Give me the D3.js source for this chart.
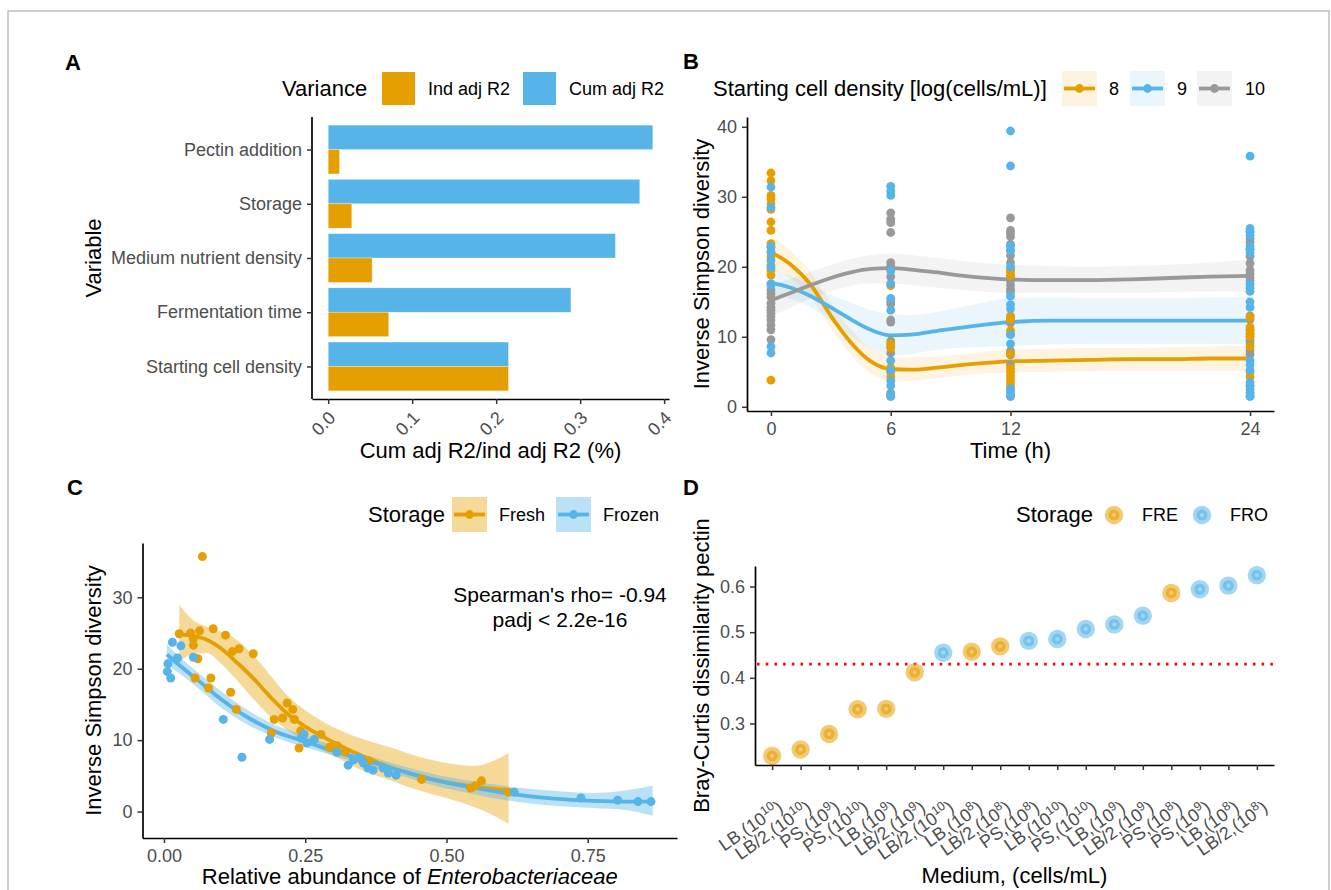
<!DOCTYPE html>
<html><head><meta charset="utf-8">
<script src="https://cdn.jsdelivr.net/npm/d3@7"></script>
<style>
body{margin:0;background:#fff}
svg text{font-family:"Liberation Sans",Arial,Helvetica,sans-serif}
</style>
</head><body>
<svg id="chart" width="1331" height="890"></svg>
<script>
// ---------------- DATA ----------------
// Panel A
const aVariables = ["Starting cell density","Fermentation time","Medium nutrient density","Storage","Pectin addition"];
const aIndAdjR2 = [0.2147,0.0721,0.0523,0.0281,0.0135];
const aCumAdjR2 = [0.2147,0.2890,0.3420,0.3710,0.3865];
const aXTicks = [0,0.1,0.2,0.3,0.4];
const aLegendLabels = ["Ind adj R2","Cum adj R2"];

// Panel B
const bGroups = ["8","9","10"];
const bTimes = [0,6,12,24];
const bXTicks = [0,6,12,24];
const bYTicks = [0,10,20,30,40];
const b8Values = [
  [33.4,32.3,30.2,29.7,29.0,28.2,26.4,25.2,23.3,22.8,22.1,21.4,20.2,19.5,18.8,3.8],
  [17.3,9.0,8.4,5.6,5.0,4.3,2.0,1.5],
  [19.3,18.8,13.0,12.5,10.9,10.4,7.6,5.5,5.0,4.5,4.0,3.5,3.0,2.4,1.5],
  [12.8,11.4,10.9,10.4,10.0,8.6,5.0,4.3,3.0,2.0,1.5]
];
const b9Values = [
  [31.4,28.5,22.9,22.1,20.9,19.9,17.6,17.4,8.6,7.7],
  [31.5,30.8,30.2,19.4,17.6,15.5,13.8,6.6,5.2,3.7,3.0,1.8,1.5],
  [39.4,34.4,23.0,22.3,20.0,15.8,14.6,14.0,10.3,9.0,2.6,2.0,1.5],
  [35.8,25.5,25.0,24.5,23.0,22.6,22.0,17.5,17.0,16.5,15.0,14.2,6.6,6.0,5.2,3.5,3.0,2.5,2.0,1.5]
];
const b10Values = [
  [16.7,16.2,15.7,14.8,14.2,13.8,13.4,12.9,12.4,11.7,11.0,9.6],
  [27.7,26.8,26.3,24.9,20.6,20.1,19.6,18.6,15.1,14.7,12.4,12.1,9.4,8.6,7.7],
  [27.0,25.2,24.8,24.3,23.2,22.4,21.6,20.6,19.6,18.6,18.0,17.4,16.8,16.4,12.6,12.0,8.0,7.4,6.0],
  [25.0,24.0,23.5,22.5,21.5,20.5,19.5,19.0,18.5,18.0,13.0,12.5,11.0,10.5,10.0,9.5,9.0,8.0,7.5]
];
const bSmoothTime = [0,1,2,3,4,5,6,7,8,10,12,14,16,18,20,22,24];
const b8Fit = [22.1,20.3,17.4,13.0,9.2,6.5,5.4,5.3,5.5,6.1,6.5,6.6,6.7,6.8,6.8,6.9,6.9];
const b8Lo  = [19.8,18.4,15.6,11.3,7.4,4.8,3.6,3.7,4.0,4.6,4.9,5.0,5.1,5.2,5.2,5.2,5.2];
const b8Hi  = [24.4,22.2,19.2,14.8,11.1,8.3,7.2,7.0,7.1,7.6,8.2,8.3,8.4,8.4,8.5,8.6,8.7];
const b9Fit = [17.7,17.0,15.8,14.2,12.5,11.0,10.2,10.3,10.7,11.5,12.1,12.3,12.3,12.3,12.3,12.3,12.3];
const b9Lo  = [15.8,15.4,14.2,12.3,10.1,8.3,7.3,7.5,8.0,8.5,8.7,8.9,9.0,9.0,9.0,9.0,8.9];
const b9Hi  = [19.7,18.7,17.4,16.0,14.9,13.8,13.3,13.1,13.4,14.5,15.5,15.6,15.5,15.5,15.5,15.6,15.7];
const b10Fit = [15.2,16.3,17.4,18.4,19.2,19.7,19.8,19.6,19.3,18.6,18.2,18.1,18.1,18.2,18.4,18.6,18.7];
const b10Lo  = [12.9,14.2,15.5,16.5,17.3,17.6,17.6,17.4,17.1,16.6,16.3,16.3,16.3,16.3,16.4,16.5,16.4];
const b10Hi  = [17.5,18.3,19.3,20.3,21.1,21.7,21.9,21.7,21.4,20.7,20.3,20.1,20.0,20.1,20.3,20.6,21.0];

// Panel C
const cStorage = ["Fresh","Frozen"];
const cXTicks = [0,0.25,0.5,0.75];
const cYTicks = [0,10,20,30];
const cFreshX = [0.068,0.027,0.047,0.063,0.087,0.109,0.133,0.121,0.158,0.052,0.052,0.060,0.055,0.083,0.079,0.118,0.128,0.218,0.228,0.195,0.210,0.231,0.190,0.242,0.278,0.239,0.293,0.307,0.320,0.363,0.456,0.543,0.551,0.562,0.610];
const cFreshY = [35.7,24.9,25.0,25.3,25.6,24.7,22.8,22.4,22.1,24.2,23.3,21.4,18.7,18.7,17.3,16.7,14.3,15.2,14.3,12.9,13.1,12.9,11.0,11.3,10.8,8.9,9.0,9.2,8.4,7.1,4.5,3.3,3.6,4.3,2.7];
const cFrozenX = [0.015,0.030,0.024,0.052,0.007,0.006,0.012,0.105,0.138,0.187,0.243,0.248,0.253,0.266,0.306,0.326,0.335,0.346,0.353,0.361,0.370,0.388,0.397,0.411,0.620,0.738,0.803,0.839,0.862];
const cFrozenY = [23.7,23.2,21.5,21.6,20.7,19.6,18.7,12.9,7.6,10.1,10.3,10.8,9.6,10.1,8.3,6.5,7.2,7.5,6.8,6.1,5.8,6.1,5.4,5.1,2.7,1.9,1.6,1.4,1.4];
const cFreshFitX = [0.027,0.05,0.075,0.1,0.13,0.16,0.19,0.22,0.25,0.3,0.35,0.4,0.45,0.5,0.55,0.58,0.61];
const cFreshFit = [24.8,24.6,24.1,22.9,20.8,18.5,15.9,13.6,11.9,9.7,7.8,6.2,5.0,4.1,3.5,3.2,3.0];
const cFreshLo  = [21.0,22.0,22.2,20.8,18.3,15.6,13.2,11.3,9.8,7.8,5.8,4.4,3.0,1.9,0.6,-0.4,-1.7];
const cFreshHi  = [29.0,26.9,25.9,25.2,24.0,21.7,18.9,16.1,14.2,11.8,10.2,9.0,7.7,6.8,6.4,7.0,8.2];
const cFrozenFitX = [0.005,0.03,0.06,0.1,0.15,0.2,0.25,0.3,0.36,0.42,0.48,0.55,0.62,0.69,0.76,0.82,0.865];
const cFrozenFit = [22.0,20.3,18.4,15.8,13.1,11.1,9.8,8.5,7.1,5.7,4.4,3.3,2.4,1.8,1.5,1.4,1.4];
const cFrozenLo  = [20.6,19.2,17.3,14.6,12.1,10.3,9.0,7.8,6.4,5.0,3.6,2.4,1.4,0.8,0.5,0.2,-0.6];
const cFrozenHi  = [23.4,21.5,19.5,16.9,14.1,12.0,10.6,9.2,7.8,6.4,5.2,4.2,3.4,2.9,2.6,3.0,3.6];
const cAnnotation = ["Spearman's rho= -0.94","padj < 2.2e-16"];

// Panel D
const dMedium = ["LB","LB/2","PS","PS","LB","LB/2","LB/2","LB","LB/2","PS","LB","PS","LB","LB/2","PS","PS","LB","LB/2"];
const dExponent = ["10","10","9","10","9","9","10","8","8","8","10","10","9","9","8","9","8","8"];
const dStorage = ["FRE","FRE","FRE","FRE","FRE","FRE","FRO","FRE","FRE","FRO","FRO","FRO","FRO","FRO","FRE","FRO","FRO","FRO"];
const dValue = [0.229,0.243,0.277,0.331,0.332,0.412,0.455,0.457,0.469,0.481,0.485,0.507,0.517,0.536,0.586,0.594,0.602,0.625];
const dYTicks = [0.3,0.4,0.5,0.6];
const dThreshold = 0.43;

// ---------------- STYLE ----------------
const ORANGE="#E69F00", BLUE="#56B4E9", GRAY="#999999", TICKCOL="#4D4D4D";
const svg = d3.select("#chart");

svg.append("rect").attr("x",8).attr("y",11).attr("width",1321).attr("height",900)
  .attr("fill","none").attr("stroke","#BDBDBD").attr("stroke-width",1.5);

function styleAxis(g){
  g.select(".domain").attr("stroke","#000").attr("stroke-width",1.7);
  g.selectAll(".tick line").attr("stroke","#333").attr("stroke-width",1.5);
  g.selectAll(".tick text").attr("fill",TICKCOL).attr("font-size","18px")
    .attr("font-family","Liberation Sans, Arial, sans-serif");
}
function label(x,y,t){
  svg.append("text").attr("x",x).attr("y",y).attr("font-size","22px").attr("font-weight","bold").text(t);
}
function text(x,y,t,size,anchor,color){
  return svg.append("text").attr("x",x).attr("y",y).attr("font-size",size+"px")
    .attr("text-anchor",anchor||"start").attr("fill",color||"#000").text(t);
}
function vtext(x,y,t){
  return svg.append("text").attr("transform",`translate(${x},${y}) rotate(-90)`)
    .attr("font-size","22px").attr("text-anchor","middle").text(t);
}

// ================= PANEL A =================
label(65,70,"A");
const A = {l:312,r:669,t:117,b:399};
const ax = d3.scaleLinear().domain([-0.0193,0.4058]).range([A.l,A.r]);
const ay = d3.scalePoint().domain(aVariables).range([A.b,A.t]).padding(0.6);
const bh = ay.step()*0.45;
const gA = svg.append("g");
gA.selectAll("rect.cum").data(aVariables).join("rect")
  .attr("x",ax(0)).attr("y",d=>ay(d)-bh).attr("height",bh)
  .attr("width",(d,i)=>ax(aCumAdjR2[i])-ax(0)).attr("fill",BLUE)
  .attr("stroke","#fff").attr("stroke-opacity",0.5).attr("stroke-width",0.6);
gA.selectAll("rect.ind").data(aVariables).join("rect")
  .attr("x",ax(0)).attr("y",d=>ay(d)).attr("height",bh)
  .attr("width",(d,i)=>ax(aIndAdjR2[i])-ax(0)).attr("fill",ORANGE)
  .attr("stroke","#fff").attr("stroke-opacity",0.5).attr("stroke-width",0.6);
const gAy = svg.append("g").attr("transform",`translate(${A.l},0)`)
  .call(d3.axisLeft(ay).tickSize(5).tickSizeOuter(0).tickPadding(5));
gAy.select(".domain").attr("d",`M0,${A.t}V${A.b}`);
styleAxis(gAy);
const gAx = svg.append("g").attr("transform",`translate(0,${A.b})`)
  .call(d3.axisBottom(ax).tickValues(aXTicks).tickFormat(d3.format(".1f")).tickSize(5).tickSizeOuter(0));
styleAxis(gAx);
gAx.selectAll(".tick text").attr("text-anchor","end").attr("dy",0).attr("y",0)
  .attr("transform","translate(8,20) rotate(-45)");
text((A.l+A.r)/2,458,"Cum adj R2/ind adj R2 (%)",22,"middle");
vtext(101,(A.t+A.b)/2,"Variable");
// legend
text(282,96,"Variance",22);
svg.append("rect").attr("x",382).attr("y",72).attr("width",33).attr("height",33).attr("fill",ORANGE);
text(428,95,aLegendLabels[0],18);
svg.append("rect").attr("x",523).attr("y",72).attr("width",33).attr("height",33).attr("fill",BLUE);
text(569,95,aLegendLabels[1],18);

// ================= PANEL B =================
label(683,69,"B");
const B = {l:747,r:1274,t:117,b:411};
const bx = d3.scaleLinear().domain([-1.2,25.2]).range([B.l,B.r]);
const by = d3.scaleLinear().domain([-0.6,41.4]).range([B.b,B.t]);
const bColor = {"8":ORANGE,"9":BLUE,"10":GRAY};
const bPts = {"8":b8Values,"9":b9Values,"10":b10Values};
const bFits = {"8":[b8Fit,b8Lo,b8Hi],"9":[b9Fit,b9Lo,b9Hi],"10":[b10Fit,b10Lo,b10Hi]};
const gB = svg.append("g");
bGroups.forEach(g=>{
  const [fit,lo,hi]=bFits[g];
  const rows = bSmoothTime.map((t,i)=>({t,f:fit[i],lo:lo[i],hi:hi[i]}));
  gB.append("path").datum(rows).attr("fill",bColor[g]).attr("fill-opacity",0.12)
    .attr("d",d3.area().x(d=>bx(d.t)).y0(d=>by(d.lo)).y1(d=>by(d.hi)).curve(d3.curveMonotoneX));
});
bGroups.forEach(g=>{
  const [fit]=bFits[g];
  const rows = bSmoothTime.map((t,i)=>({t,f:fit[i]}));
  gB.append("path").datum(rows).attr("fill","none").attr("stroke",bColor[g]).attr("stroke-width",3.8)
    .attr("d",d3.line().x(d=>bx(d.t)).y(d=>by(d.f)).curve(d3.curveMonotoneX));
});
["10","8","9"].forEach(g=>{
  const pts=[];
  bTimes.forEach((t,i)=>bPts[g][i].forEach(v=>pts.push({t,v})));
  gB.selectAll(null).data(pts).join("circle").attr("cx",d=>bx(d.t)).attr("cy",d=>by(d.v))
    .attr("r",4.4).attr("fill",bColor[g]);
});
const gBy = svg.append("g").attr("transform",`translate(${B.l},0)`)
  .call(d3.axisLeft(by).tickValues(bYTicks).tickSize(5).tickSizeOuter(0).tickPadding(5));
styleAxis(gBy);
const gBx = svg.append("g").attr("transform",`translate(0,${B.b})`)
  .call(d3.axisBottom(bx).tickValues(bXTicks).tickSize(5).tickSizeOuter(0).tickPadding(6));
styleAxis(gBx);
text((B.l+B.r)/2,458,"Time (h)",22,"middle");
vtext(709,(B.t+B.b)/2,"Inverse Simpson diversity");
// legend
text(713,96,"Starting cell density [log(cells/mL)]",22);
const bKeyX=[1062,1130,1197], bLabX=[1109,1177,1245];
bGroups.forEach((g,i)=>{
  const x=bKeyX[i];
  svg.append("rect").attr("x",x).attr("y",71).attr("width",35).attr("height",35)
    .attr("fill",bColor[g]).attr("fill-opacity",0.12);
  svg.append("line").attr("x1",x+2).attr("x2",x+33).attr("y1",88.5).attr("y2",88.5)
    .attr("stroke",bColor[g]).attr("stroke-width",3.8);
  svg.append("circle").attr("cx",x+17.5).attr("cy",88.5).attr("r",4.4).attr("fill",bColor[g]);
  text(bLabX[i],95,g,18);
});

// ================= PANEL C =================
label(67,495,"C");
const C = {l:142.5,r:677,t:543,b:838};
const cx = d3.scaleLinear().domain([-0.038,0.908]).range([C.l,C.r]);
const cy = d3.scaleLinear().domain([-3.7,37.6]).range([C.b,C.t]);
const gC = svg.append("g");
const cSets = [
  {name:"Fresh",col:ORANGE,fx:cFreshFitX,f:cFreshFit,lo:cFreshLo,hi:cFreshHi,px:cFreshX,py:cFreshY},
  {name:"Frozen",col:BLUE,fx:cFrozenFitX,f:cFrozenFit,lo:cFrozenLo,hi:cFrozenHi,px:cFrozenX,py:cFrozenY}
];
cSets.forEach(s=>{
  const rows=s.fx.map((x,i)=>({x,lo:s.lo[i],hi:s.hi[i]}));
  gC.append("path").datum(rows).attr("fill",s.col).attr("fill-opacity",0.4)
    .attr("d",d3.area().x(d=>cx(d.x)).y0(d=>cy(d.lo)).y1(d=>cy(d.hi)).curve(d3.curveMonotoneX));
});
cSets.forEach(s=>{
  const rows=s.fx.map((x,i)=>({x,f:s.f[i]}));
  gC.append("path").datum(rows).attr("fill","none").attr("stroke",s.col).attr("stroke-width",3.8)
    .attr("d",d3.line().x(d=>cx(d.x)).y(d=>cy(d.f)).curve(d3.curveMonotoneX));
});
cSets.forEach(s=>{
  gC.selectAll(null).data(s.px.map((x,i)=>({x,y:s.py[i]}))).join("circle")
    .attr("cx",d=>cx(d.x)).attr("cy",d=>cy(d.y)).attr("r",4.5).attr("fill",s.col);
});
const gCy = svg.append("g").attr("transform",`translate(${C.l},0)`)
  .call(d3.axisLeft(cy).tickValues(cYTicks).tickSize(5).tickSizeOuter(0).tickPadding(5));
styleAxis(gCy);
const gCx = svg.append("g").attr("transform",`translate(0,${C.b})`)
  .call(d3.axisBottom(cx).tickValues(cXTicks).tickFormat(d3.format(".2f")).tickSize(5).tickSizeOuter(0).tickPadding(6));
styleAxis(gCx);
const cTitle = text((C.l+C.r)/2,884,"",22,"middle");
cTitle.append("tspan").text("Relative abundance of ");
cTitle.append("tspan").attr("font-style","italic").text("Enterobacteriaceae");
vtext(101,(C.t+C.b)/2,"Inverse Simpson diversity");
text(560,602,cAnnotation[0],21,"middle");
text(560,627,cAnnotation[1],21,"middle");
// legend
text(368,522,"Storage",22);
const cKeyX=[452,556], cLabX=[499,603];
cSets.forEach((s,i)=>{
  const x=cKeyX[i];
  svg.append("rect").attr("x",x).attr("y",497).attr("width",35).attr("height",35)
    .attr("fill",s.col).attr("fill-opacity",0.4);
  svg.append("line").attr("x1",x+2).attr("x2",x+33).attr("y1",514.5).attr("y2",514.5)
    .attr("stroke",s.col).attr("stroke-width",3.8);
  svg.append("circle").attr("cx",x+17.5).attr("cy",514.5).attr("r",4.4).attr("fill",s.col);
  text(cLabX[i],521,cStorage[i],18);
});

// ================= PANEL D =================
label(683,495,"D");
const D = {l:755,r:1274,t:566,b:765};
const dCats = dValue.map((v,i)=>i);
const dx = d3.scalePoint().domain(dCats).range([D.l,D.r]).padding(0.6);
const dy = d3.scaleLinear().domain([0.209,0.645]).range([D.b,D.t]);
const dColor = {"FRE":ORANGE,"FRO":BLUE};
svg.append("line").attr("x1",D.l+2).attr("x2",D.r).attr("y1",dy(dThreshold)).attr("y2",dy(dThreshold))
  .attr("stroke","#FF0000").attr("stroke-width",2.6).attr("stroke-dasharray","2.6,6.1");
function dPoint(g,x,y,col){
  g.append("circle").attr("cx",x).attr("cy",y).attr("r",9.2).attr("fill",col).attr("fill-opacity",0.55);
  g.append("circle").attr("cx",x).attr("cy",y).attr("r",3.8).attr("fill","none")
    .attr("stroke",col).attr("stroke-opacity",0.6).attr("stroke-width",3.3);
}
const gD = svg.append("g");
dCats.forEach(i=>dPoint(gD,dx(i),dy(dValue[i]),dColor[dStorage[i]]));
const gDy = svg.append("g").attr("transform",`translate(${D.l},0)`)
  .call(d3.axisLeft(dy).tickValues(dYTicks).tickFormat(d3.format(".1f")).tickSize(5).tickSizeOuter(0).tickPadding(5));
styleAxis(gDy);
const gDx = svg.append("g").attr("transform",`translate(0,${D.b})`)
  .call(d3.axisBottom(dx).tickSize(5).tickSizeOuter(0).tickFormat(""));
styleAxis(gDx);
gDx.selectAll(".tick text").remove();
dCats.forEach(i=>{
  const t = svg.append("text").attr("text-anchor","end").attr("font-size","18px").attr("fill",TICKCOL)
    .attr("transform",`translate(${dx(i)+12},${D.b+45}) rotate(-35)`);
  t.append("tspan").text(dMedium[i]+",(10");
  t.append("tspan").attr("dy",-7).attr("font-size","12.5px").text(dExponent[i]);
  t.append("tspan").attr("dy",7).text(")");
});
text((D.l+D.r)/2,883,"Medium, (cells/mL)",22,"middle");
vtext(709,(D.t+D.b)/2,"Bray-Curtis dissimilarity pectin");
// legend
text(1016,522,"Storage",22);
const dLegend=["FRE","FRO"], dKeyX=[1114,1202], dLabX=[1142,1230];
dLegend.forEach((s,i)=>{
  dPoint(svg,dKeyX[i],515,dColor[s]);
  text(dLabX[i],521,s,18);
});
</script>
</body></html>
